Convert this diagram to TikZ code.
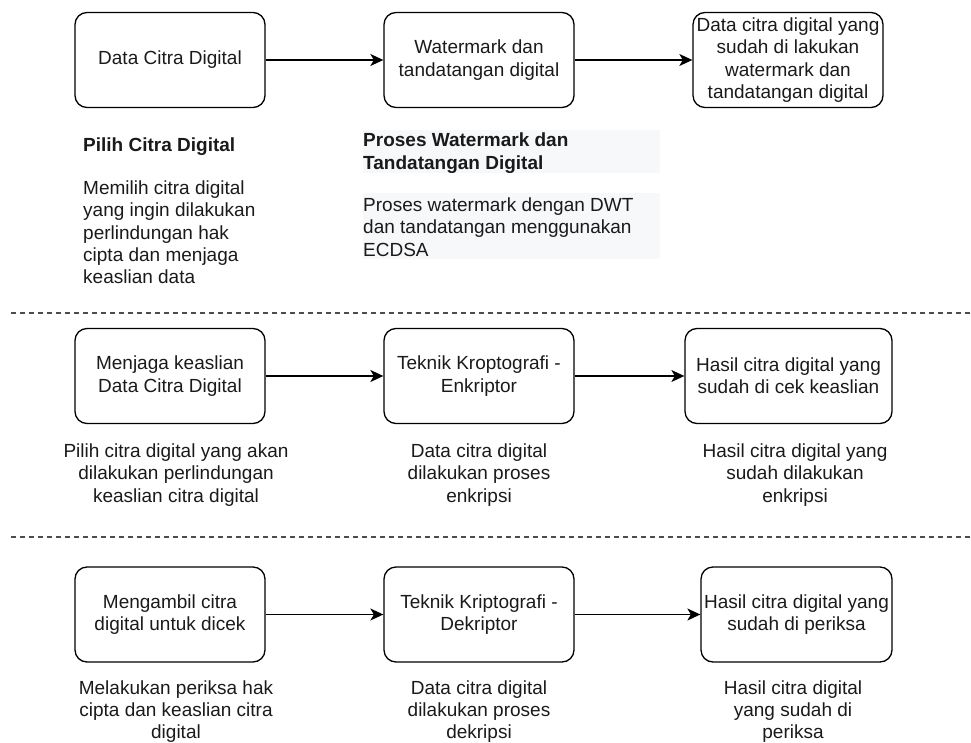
\documentclass[tikz,border=0pt]{standalone}
\usepackage{fontspec}
\setmainfont{Liberation Sans}
\usetikzlibrary{arrows.meta}
\definecolor{bgfill}{HTML}{F7F8FA}
\definecolor{txt}{HTML}{1A1A1A}

\begin{document}
\begin{tikzpicture}[x=1pt, y=-1pt,
    every node/.style={font=\fontsize{19}{22.3}\selectfont, text=txt},
    box/.style={draw, rounded corners=12pt, line width=1.3pt, minimum width=190pt, minimum height=95pt, align=center, inner sep=0pt},
    note/.style={align=center, inner sep=0pt},
    lnote/.style={align=left, inner sep=0pt, anchor=west},
    flow/.style={line width=1.4pt, -{Stealth[length=13pt, width=12pt, inset=3.5pt]}},
    sep/.style={line width=1.1pt, dash pattern=on 5pt off 4pt, gray!60!black}]
    \useasboundingbox (0,0) rectangle (971,743);

    \node[box] (a1) at (170,60) {Data Citra Digital};
    \node[box] (a2) at (479,60) {Watermark dan\\tandatangan digital};
    \node[box] (a3) at (788,60) {Data citra digital yang\\sudah di lakukan\\watermark dan\\tandatangan digital};

    \node[lnote, font=\fontsize{19}{22.3}\selectfont\bfseries] (ta1) at (83,147) {Pilih Citra Digital};
    \node[lnote] (da1) at (83,232.5) {Memilih citra digital\\yang ingin dilakukan\\perlindungan hak\\cipta dan menjaga\\keaslian data};

    \fill[bgfill] (363,130) rectangle (660,173);
    \fill[bgfill] (363,193) rectangle (660,259);
    \node[lnote, font=\fontsize{19}{22.3}\selectfont\bfseries] (ta2) at (363,153) {Proses Watermark dan\\Tandatangan Digital};
    \node[lnote] (da2) at (363,227) {Proses watermark dengan DWT\\dan tandatangan menggunakan\\ECDSA};

    \draw[sep] (11,313) -- (971,313);

    \node[box] (b1) at (170,376) {Menjaga keaslian\\Data Citra Digital};
    \node[box] (b2) at (479,376) {Teknik Kroptografi -\\Enkriptor};
    \node[box, minimum width=207pt] (b3) at (788.5,376) {Hasil citra digital yang\\sudah di cek keaslian};

    \node[note] (db1) at (176,475) {Pilih citra digital yang akan\\dilakukan perlindungan\\keaslian citra digital};
    \node[note] (db2) at (479,475) {Data citra digital\\dilakukan proses\\enkripsi};
    \node[note] (db3) at (795,475) {Hasil citra digital yang\\sudah dilakukan\\enkripsi};

    \draw[sep] (11,537) -- (971,537);

    \node[box] (c1) at (170,614.5) {Mengambil citra\\digital untuk dicek};
    \node[box] (c2) at (479,614.5) {Teknik Kriptografi -\\Dekriptor};
    \node[box, minimum width=191pt] (c3) at (796.5,614.5) {Hasil citra digital yang\\sudah di periksa};

    \node[note] (dc1) at (176,711.5) {Melakukan periksa hak\\cipta dan keaslian citra\\digital};
    \node[note] (dc2) at (479,711.5) {Data citra digital\\dilakukan proses\\dekripsi};
    \node[note] (dc3) at (793,711.5) {Hasil citra digital\\yang sudah di\\periksa};

    \draw[flow] (a1) -- (a2);
    \draw[flow] (a2) -- (a3);
    \draw[flow] (b1) -- (b2);
    \draw[flow] (b2) -- (b3);
    \draw[flow] (c1) -- (c2);
    \draw[flow] (c2) -- (c3);
\end{tikzpicture}
\end{document}
